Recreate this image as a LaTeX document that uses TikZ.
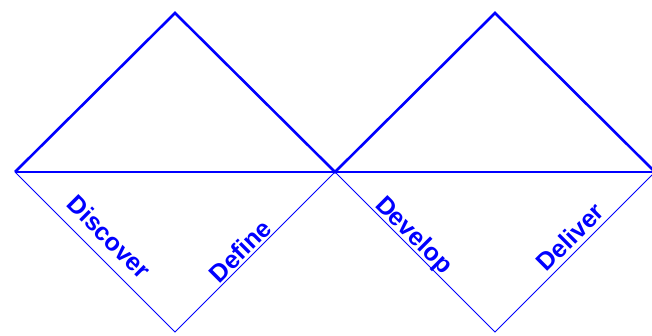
\documentclass[tikz,border=0pt]{standalone}
\usepackage{fontspec}
\setmainfont{Liberation Sans}
\begin{document}
\begin{tikzpicture}[x=1pt,y=-1pt,
  upper/.style={draw=blue,line width=2.6pt,line join=miter},
  lower/.style={draw=blue,line width=0.9pt},
  phase/.style={text=blue,font=\fontsize{25}{29}\selectfont\bfseries,inner sep=0pt}]
\useasboundingbox (0,0) rectangle (652,336);
\clip (0,0) rectangle (652,336);
\coordinate (L1) at (15,172);
\coordinate (T1) at (175,13);
\coordinate (M) at (335,172);
\coordinate (B1) at (175,332);
\coordinate (T2) at (495,13);
\coordinate (R2) at (655,172);
\coordinate (B2) at (495,332);
\draw[lower] (L1) -- (B1) -- (M) -- (B2) -- (R2);
\draw[upper] (L1) -- (T1) -- (M) -- (T2) -- (R2);
\draw[upper] (L1) -- (R2);
\node[phase,rotate=-45] (discover) at (109,237) {Discover};
\node[phase,rotate=45] (define) at (240,251) {Define};
\node[phase,rotate=-45] (develop) at (413,236) {Develop};
\node[phase,rotate=45] (deliver) at (570,237) {Deliver};
\end{tikzpicture}
\end{document}
